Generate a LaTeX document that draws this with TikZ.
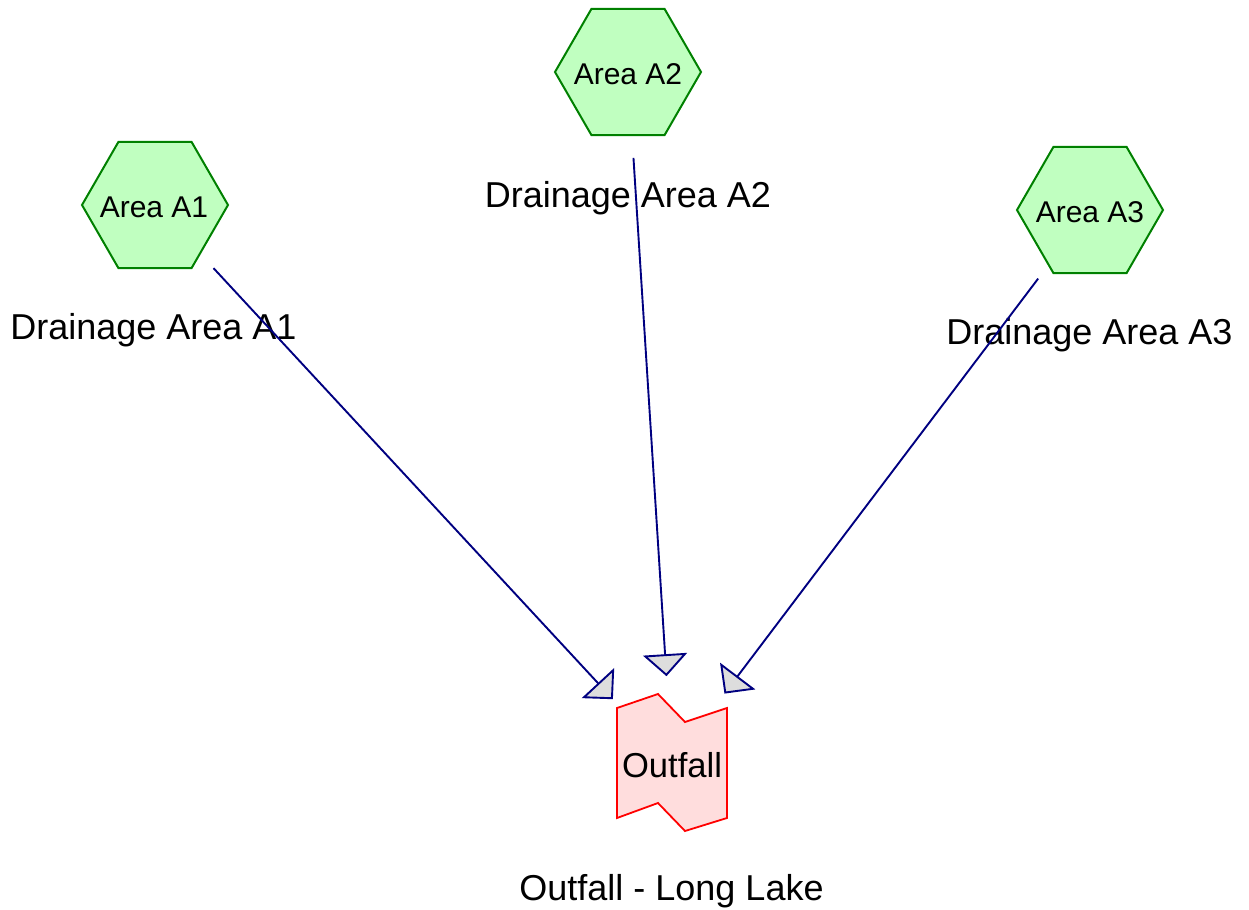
\documentclass[tikz,border=0pt]{standalone}
\usepackage{fontspec}
\setmainfont{Liberation Sans}
\usetikzlibrary{arrows.meta,shapes.geometric}
\definecolor{hexfill}{RGB}{192,255,192}
\definecolor{hexdraw}{RGB}{0,128,0}
\definecolor{outfill}{RGB}{255,221,221}
\definecolor{flowcol}{RGB}{0,0,128}
\definecolor{tipfill}{RGB}{221,221,221}
\tikzset{
  hexbox/.style={regular polygon, regular polygon sides=6, minimum size=73pt, inner sep=0pt,
    draw=hexdraw, fill=hexfill, line width=1pt},
  hextext/.style={anchor=base, inner sep=0pt, font=\fontsize{15}{18}\selectfont},
  bigtext/.style={anchor=base, inner sep=0pt, font=\fontsize{18}{21}\selectfont},
  outtext/.style={anchor=base, inner sep=0pt, font=\fontsize{17.3}{20}\selectfont},
  flow/.style={draw=flowcol, line width=0.95pt, shorten <=43pt, shorten >=43.5pt,
    -{Triangle[length=11pt,width=22pt,fill=tipfill]}},
  outshape/.style={draw=red, fill=outfill, line width=0.9pt, line join=miter}
}
\begin{document}
\begin{tikzpicture}[x=0.5pt,y=-0.5pt]
\useasboundingbox (0,0) rectangle (1249,910);
% drainage areas
\node[hexbox] (A1) at (155,205) {};
\node[hextext] (A1t) at (154,217) {Area A1};
\node[bigtext] (L1) at (153.5,339) {Drainage Area A1};
\node[hexbox] (A2) at (628,72) {};
\node[hextext] (A2t) at (628,84) {Area A2};
\node[bigtext] (L2) at (628,207) {Drainage Area A2};
\node[hexbox] (A3) at (1090,210) {};
\node[hextext] (A3t) at (1090,222) {Area A3};
\node[bigtext] (L3) at (1089.5,344) {Drainage Area A3};
% outfall
\draw[outshape] (617,708) -- (658,694) -- (685,722) -- (727,708) -- (727,818)
  -- (685,831) -- (658,803) -- (617,818) -- cycle;
\coordinate (O) at (672,763);
\node[outtext] (Ot) at (672,777) {Outfall};
\node[bigtext] (LO) at (671.5,900) {Outfall - Long Lake};
% connectors
\draw[flow] (A1.center) -- (O);
\draw[flow] (A2.center) -- (O);
\draw[flow] (A3.center) -- (O);
\end{tikzpicture}
\end{document}
